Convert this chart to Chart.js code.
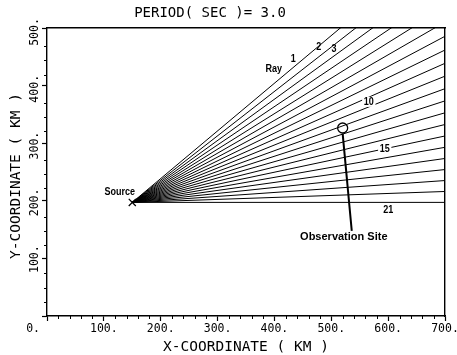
<!DOCTYPE html>
<html>
<head>
<meta charset="utf-8">
<script src="https://cdn.jsdelivr.net/npm/chart.js@4.4.1/dist/chart.umd.min.js"></script>
<style>
  html, body { margin: 0; padding: 0; background: #fff; }
  #wrap { width: 457px; height: 355px; position: relative; }
</style>
</head>
<body>
<div id="wrap"><canvas id="rays"></canvas></div>
<script>
// ray fan for a 3 s period, distances in km
const chartTitle = "PERIOD( SEC )= 3.0";
const xTitle = "X-COORDINATE ( KM )";
const yTitle = "Y-COORDINATE ( KM )";

const xRange = [0, 700];
const yRange = [0, 507];
const xTickValues = [0, 100, 200, 300, 400, 500, 600, 700];
const yTickValues = [100, 200, 300, 400, 500];
const xMinorStep = 20;
const yMinorStep = 25;

const source = { x: 150, y: 200 };
const rayNumbers = [1, 2, 3, 4, 5, 6, 7, 8, 9, 10, 11, 12, 13, 14, 15, 16, 17, 18, 19, 20, 21];
const rayAngles = [40, 38, 36, 34, 32, 30, 28, 26, 24, 22, 20, 18, 16, 14, 12, 10, 8, 6, 4, 2, 0]; // deg from +x
const rayLength = 1200; // long enough, clipped at the frame

const site = { x: 520, y: 331 };
const sitePointer = [{ x: 520, y: 321 }, { x: 536, y: 150 }];

const MONO = '"DejaVu Sans Mono", "Liberation Mono", monospace';
const SANS = '"Liberation Sans", Arial, sans-serif';

function rayEnd(deg) {
    const r = deg * Math.PI / 180;
    return { x: source.x + rayLength * Math.cos(r), y: source.y + rayLength * Math.sin(r) };
}

const datasets = rayAngles.map((a, i) => ({
    label: "Ray " + rayNumbers[i],
    data: [source, rayEnd(a)],
    showLine: true,
    borderColor: "#000",
    borderWidth: 1,
    pointRadius: 0,
    clip: 0
}));

datasets.push({
    label: "pointer",
    data: sitePointer,
    showLine: true,
    borderColor: "#000",
    borderWidth: 2,
    pointRadius: 0
});
datasets.push({
    label: "Observation Site",
    data: [site],
    showLine: false,
    pointStyle: "circle",
    pointRadius: 5,
    pointBorderWidth: 1.3,
    pointBorderColor: "#000",
    pointBackgroundColor: "rgba(0,0,0,0)"
});
datasets.push({
    label: "Source",
    data: [source],
    showLine: false,
    pointStyle: "crossRot",
    pointRadius: 5,
    pointBorderWidth: 1.3,
    pointBorderColor: "#000"
});

function drawText(ctx, text, x, y, font, opts) {
    opts = opts || {};
    ctx.save();
    ctx.font = font;
    ctx.fillStyle = "#000";
    ctx.textAlign = opts.align || "center";
    ctx.textBaseline = "middle";
    ctx.translate(x, y);
    if (opts.rotate) ctx.rotate(opts.rotate);
    if (opts.sx) ctx.scale(opts.sx, 1);
    if (opts.knockout) {
        const w = ctx.measureText(text).width;
        ctx.fillStyle = "#fff";
        ctx.fillRect(-w / 2 - 2, -5, w + 4, 10);
        ctx.fillStyle = "#000";
    }
    ctx.fillText(text, 0, 0);
    ctx.restore();
}

const decor = {
    id: "decor",
    afterDraw(chart) {
        const ctx = chart.ctx;
        const xs = chart.scales.x, ys = chart.scales.y;
        const area = chart.chartArea;

        // minor ticks, outside the frame
        ctx.save();
        ctx.strokeStyle = "#000";
        ctx.lineWidth = 1;
        ctx.beginPath();
        for (let v = xRange[0]; v <= xRange[1]; v += xMinorStep) {
            if (v % 100 === 0) continue;
            const px = Math.round(xs.getPixelForValue(v)) + 0.5;
            ctx.moveTo(px, area.bottom);
            ctx.lineTo(px, area.bottom + 3);
        }
        for (let v = yRange[0]; v <= yRange[1]; v += yMinorStep) {
            if (v % 100 === 0) continue;
            const py = Math.round(ys.getPixelForValue(v)) + 0.5;
            ctx.moveTo(area.left, py);
            ctx.lineTo(area.left - 3, py);
        }
        ctx.stroke();
        ctx.restore();

        // tick labels
        const tickFont = "11.5px " + MONO;
        xTickValues.forEach(v => {
            const px = xs.getPixelForValue(v);
            if (v === 0) drawText(ctx, v + ".", px - 7, 329, tickFont, { align: "right" });
            else drawText(ctx, v + ".", px, 329, tickFont);
        });
        yTickValues.forEach(v => {
            drawText(ctx, v + ".", 35, ys.getPixelForValue(v), tickFont, { rotate: -Math.PI / 2 });
        });

        // titles
        drawText(ctx, chartTitle, 210, 13.5, "14px " + MONO);
        drawText(ctx, xTitle, (area.left + area.right) / 2, 347, "14.5px " + MONO);
        drawText(ctx, yTitle, 16, 176, "14.5px " + MONO, { rotate: -Math.PI / 2 });

        // annotations in km
        const lab = "bold 11px " + SANS;
        const at = (t, x, y, o) => drawText(ctx, t, xs.getPixelForValue(x), ys.getPixelForValue(y), lab, Object.assign({ sx: 0.82 }, o));
        at("Source", 128, 218);
        at("Ray", 399, 434);
        at("1", 433, 452);
        at("2", 478, 473);
        at("3", 505, 470);
        at("10", 566, 377, { knockout: true });
        at("15", 594, 294, { knockout: true });
        at("21", 600, 186);
        at("Observation Site", 522, 139, { sx: 1 });
    }
};

new Chart(document.getElementById("rays"), {
    type: "scatter",
    data: { datasets: datasets },
    options: {
        responsive: true,
        maintainAspectRatio: false,
        animation: false,
        events: [],
        layout: { padding: { left: 42, right: 12, top: 28, bottom: 34 } },
        plugins: {
            legend: { display: false },
            title: { display: false },
            tooltip: { enabled: false }
        },
        scales: {
            x: {
                type: "linear", position: "bottom",
                min: xRange[0], max: xRange[1],
                ticks: { display: false, stepSize: 100, includeBounds: false },
                grid: { display: true, drawOnChartArea: false, drawTicks: true, tickLength: 5, tickColor: "#000", tickWidth: 1.2 },
                border: { display: true, color: "#000", width: 1.4 }
            },
            y: {
                type: "linear", position: "left",
                min: yRange[0], max: yRange[1],
                ticks: { display: false, stepSize: 100, includeBounds: false },
                grid: { display: true, drawOnChartArea: false, drawTicks: true, tickLength: 5, tickColor: "#000", tickWidth: 1.2 },
                border: { display: true, color: "#000", width: 1.4 }
            },
            xTop: {
                type: "linear", position: "top",
                min: xRange[0], max: xRange[1],
                ticks: { display: false },
                grid: { display: false, drawTicks: false, tickLength: 0 },
                border: { display: true, color: "#000", width: 1.4 }
            },
            yRight: {
                type: "linear", position: "right",
                min: yRange[0], max: yRange[1],
                ticks: { display: false },
                grid: { display: false, drawTicks: false, tickLength: 0 },
                border: { display: true, color: "#000", width: 1.4 }
            }
        }
    },
    plugins: [decor]
});
</script>
</body>
</html>
